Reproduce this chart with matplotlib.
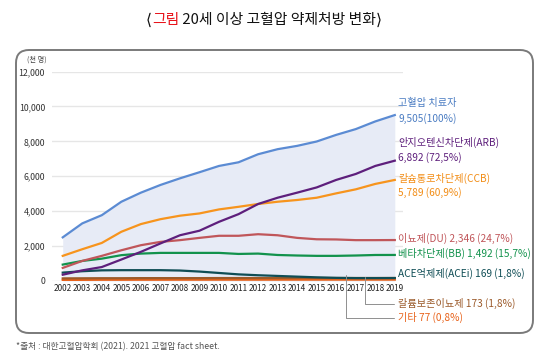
import matplotlib
matplotlib.use("Agg")
import matplotlib.pyplot as plt
from matplotlib.patches import FancyBboxPatch
from matplotlib.ticker import FuncFormatter

plt.rcParams['font.family'] = ['Noto Sans CJK KR', 'DejaVu Sans']

years = list(range(2002, 2020))
total = [2500, 3300, 3770, 4540, 5060, 5500, 5880, 6230, 6590, 6800, 7260, 7550, 7740, 7990, 8370, 8700, 9140, 9505]
arb = [360, 610, 800, 1230, 1670, 2150, 2620, 2880, 3390, 3830, 4410, 4770, 5060, 5360, 5790, 6130, 6590, 6892]
ccb = [1440, 1820, 2180, 2820, 3260, 3540, 3740, 3870, 4100, 4250, 4410, 4540, 4640, 4770, 5020, 5250, 5560, 5789]
du = [750, 1150, 1440, 1760, 2050, 2240, 2340, 2470, 2590, 2590, 2680, 2620, 2470, 2390, 2380, 2340, 2340, 2346]
bb = [940, 1150, 1280, 1480, 1570, 1610, 1610, 1610, 1610, 1550, 1570, 1490, 1460, 1440, 1440, 1460, 1490, 1492]
acei = [480, 560, 610, 620, 620, 620, 600, 540, 460, 380, 330, 290, 250, 210, 180, 165, 165, 169]
ksd = [150, 155, 160, 160, 165, 165, 165, 165, 170, 170, 170, 170, 170, 172, 172, 173, 173, 173]
other = [60, 65, 70, 70, 72, 72, 74, 74, 75, 75, 75, 76, 76, 76, 77, 77, 77, 77]
yticks = [0, 2000, 4000, 6000, 8000, 10000, 12000]

names = ['고혈압 치료자', '안지오텐신차단제(ARB)', '칼슘통로차단제(CCB)', '이뇨제(DU)',
         '베타차단제(BB)', 'ACE억제제(ACEi)', '칼륨보존이뇨제', '기타']
pcts = ['100%', '72,5%', '60,9%', '24,7%', '15,7%', '1,8%', '1,8%', '0,8%']

c_total = '#5b8bd3'
c_arb = '#5e1f7c'
c_ccb = '#f7941d'
c_du = '#c0565a'
c_bb = '#12924c'
c_acei = '#0f4d55'
c_ksd = '#9b5a2a'
c_oth = '#e8621a'

fig = plt.figure(figsize=(5.5, 3.6), dpi=100)
W, H = 550, 360
left, right, top, bottom = 52, 403, 71.5, 281
ax = fig.add_axes([left / W, (H - bottom) / H, (right - left) / W, (bottom - top) / H])

ax.fill_between(years, 0, total, color='#e7ebf6', zorder=1, lw=0)
ax.plot(years, other, color=c_oth, lw=1.6, zorder=3)
ax.plot(years, ksd, color=c_ksd, lw=1.6, zorder=3)
ax.plot(years, acei, color=c_acei, lw=1.6, zorder=3)
ax.plot(years, bb, color=c_bb, lw=1.6, zorder=3)
ax.plot(years, du, color=c_du, lw=1.6, zorder=3)
ax.plot(years, ccb, color=c_ccb, lw=1.6, zorder=3)
ax.plot(years, arb, color=c_arb, lw=1.6, zorder=3)
ax.plot(years, total, color=c_total, lw=1.6, zorder=3)

ax.set_xlim(2001.45, 2019.42)
ax.set_ylim(0, 12000)
ax.set_yticks(yticks)
ax.yaxis.set_major_formatter(FuncFormatter(lambda v, p: f'{int(v):,}'))
ax.set_xticks(years)
ax.set_xticklabels([str(y) for y in years])
ax.grid(axis='y', color='#e6e6e6', lw=1, zorder=0)
ax.set_axisbelow(True)
for s in ax.spines.values():
    s.set_visible(False)
ax.tick_params(axis='y', length=0, pad=5, labelsize=6.3, labelcolor='#333333')
ax.tick_params(axis='x', length=0, pad=2, labelsize=5.9, labelcolor='#222222')

FS = 7.3

def end_label(val, name, pct, color, dy_name, dy_val, two_lines=True, dy=0):
    if two_lines:
        ax.annotate(name, xy=(2019, val), xytext=(3.5, dy_name), textcoords='offset pixels',
                    color=color, fontsize=FS, va='center', ha='left', annotation_clip=False)
        ax.annotate(f'{val:,} ({pct})' if pct != '100%' else f'{val:,}({pct})',
                    xy=(2019, val), xytext=(3.5, dy_val), textcoords='offset pixels',
                    color=color, fontsize=FS, va='center', ha='left', annotation_clip=False)
    else:
        ax.annotate(f'{name} {val:,} ({pct})', xy=(2019, val), xytext=(3.5, dy),
                    textcoords='offset pixels', color=color, fontsize=FS,
                    va='center', ha='left', annotation_clip=False)

end_label(total[-1], names[0], pcts[0], '#4a7cc2', 12, -3)
end_label(arb[-1], names[1], pcts[1], c_arb, 18, 3)
end_label(ccb[-1], names[2], pcts[2], '#f28c14', 1, -13)
end_label(du[-1], names[3], pcts[3], c_du, 0, 0, two_lines=False, dy=1.5)
end_label(bb[-1], names[4], pcts[4], c_bb, 0, 0, two_lines=False, dy=1.5)
end_label(acei[-1], names[5], pcts[5], c_acei, 0, 0, two_lines=False, dy=5)

ax.annotate(f'{names[6]} {ksd[-1]:,} ({pcts[6]})', xy=(2017.5, 230), xycoords='data',
            xytext=(398, H - 303.5), textcoords='figure pixels', color=c_ksd, fontsize=FS,
            va='center', ha='left', annotation_clip=False,
            arrowprops=dict(arrowstyle='-', color='#8f8f8f', lw=0.7, shrinkA=1, shrinkB=0,
                            relpos=(0, 0.5), connectionstyle='angle,angleA=0,angleB=90,rad=0'))
ax.annotate(f'{names[7]} {other[-1]:,} ({pcts[7]})', xy=(2016.5, 330), xycoords='data',
            xytext=(398, H - 317.5), textcoords='figure pixels', color=c_oth, fontsize=FS,
            va='center', ha='left', annotation_clip=False,
            arrowprops=dict(arrowstyle='-', color='#8f8f8f', lw=0.7, shrinkA=1, shrinkB=0,
                            relpos=(0, 0.5), connectionstyle='angle,angleA=0,angleB=90,rad=0'))

fig.text(27 / W, (H - 60) / H, '(천 명)', fontsize=5.2, color='#444444', va='center', ha='left')

frame = FancyBboxPatch((0.16, 0.27), 5.17, 2.83, boxstyle='round,pad=0,rounding_size=0.13',
                       transform=fig.dpi_scale_trans, fill=False, edgecolor='#7a7a7a', lw=1.4)
fig.add_artist(frame)

# title with red part, pieces placed one after another
ty = (H - 20) / H
TS = 10.7
t1 = fig.text(146 / W, ty, '\u27e8', fontsize=TS + 0.5, color='#111111', va='center', ha='left',
              family=['DejaVu Sans', 'Noto Sans CJK KR'])
fig.canvas.draw()
r = fig.canvas.get_renderer()
b1 = t1.get_window_extent(r)
t2 = fig.text(b1.x1 / W, ty, '그림', fontsize=TS, color='#e8141c', va='center', ha='left',
              weight='medium')
fig.canvas.draw()
b2 = t2.get_window_extent(r)
t3 = fig.text(b2.x1 / W, ty, ' 20세 이상 고혈압 약제처방 변화', fontsize=TS, color='#111111',
              va='center', ha='left', weight='medium')
fig.canvas.draw()
b3 = t3.get_window_extent(r)
fig.text(b3.x1 / W, ty, '\u27e9', fontsize=TS + 0.5, color='#111111', va='center', ha='left',
         family=['DejaVu Sans', 'Noto Sans CJK KR'])

fig.text(16 / W, (H - 347) / H, '*출처 : 대한고혈압학회 (2021). 2021 고혈압 fact sheet.',
         fontsize=6.3, color='#555555', va='center', ha='left')

fig.savefig('out.png', dpi=100)
